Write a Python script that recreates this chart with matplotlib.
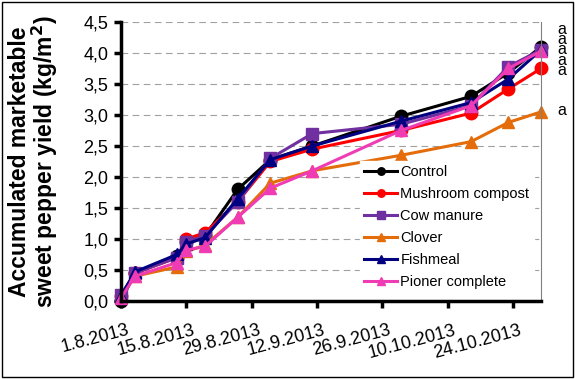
import datetime

import matplotlib
matplotlib.use("Agg")
from matplotlib import pyplot as plt
from matplotlib.patches import Rectangle
from matplotlib.transforms import ScaledTranslation

plt.rcParams['font.family'] = ['Liberation Sans', 'DejaVu Sans']

# harvest dates and accumulated yield (kg/m2)
dates = ["2013-08-01", "2013-08-04", "2013-08-13", "2013-08-15", "2013-08-19", "2013-08-26",
         "2013-09-02", "2013-09-11", "2013-09-30", "2013-10-15", "2013-10-23", "2013-10-30"]
control = [0.00, 0.45, 0.72, 0.95, 1.05, 1.80, 2.28, 2.50, 2.98, 3.30, 3.68, 4.10]
mushroom = [0.08, 0.45, 0.70, 1.00, 1.10, 1.60, 2.25, 2.45, 2.75, 3.03, 3.42, 3.75]
cow_manure = [0.10, 0.45, 0.70, 0.95, 1.05, 1.60, 2.30, 2.70, 2.85, 3.15, 3.78, 4.05]
clover = [0.08, 0.40, 0.55, 0.80, 0.90, 1.35, 1.90, 2.10, 2.35, 2.57, 2.88, 3.05]
fishmeal = [0.08, 0.47, 0.75, 0.92, 1.02, 1.65, 2.28, 2.50, 2.90, 3.20, 3.58, 4.05]
pioner = [0.05, 0.40, 0.62, 0.82, 0.88, 1.35, 1.82, 2.10, 2.75, 3.15, 3.75, 4.03]

tick_dates = ["2013-08-01", "2013-08-15", "2013-08-29", "2013-09-12", "2013-09-26",
              "2013-10-10", "2013-10-24"]
tick_labels = ["1.8.2013", "15.8.2013", "29.8.2013", "12.9.2013", "26.9.2013",
               "10.10.2013", "24.10.2013"]
y_ticks = [0.0, 0.5, 1.0, 1.5, 2.0, 2.5, 3.0, 3.5, 4.0, 4.5]

# significance letters at the right edge (stack of five + clover)
letters_top = "a\na\na\na\na"
letters_top_y = 4.05
letter_clover = "a"
letter_clover_y = 3.08

x = [datetime.datetime.strptime(d, "%Y-%m-%d") for d in dates]

fig = plt.figure(figsize=(5.75, 3.79), dpi=100)
fig.patches.append(Rectangle((0.003, 0.004), 0.994, 0.991, transform=fig.transFigure,
                             fill=False, edgecolor="black", linewidth=1.0))
ax = fig.add_axes([0.2104, 0.2058, 0.7305, 0.7362])

series = [
    ("Control", control, "#000000", "o"),
    ("Mushroom compost", mushroom, "#FF0000", "o"),
    ("Cow manure", cow_manure, "#7030A0", "s"),
    ("Clover", clover, "#E46C0A", "^"),
    ("Fishmeal", fishmeal, "#000080", "^"),
    ("Pioner complete", pioner, "#F03CB4", "^"),
]
for name, vals, col, mk in series:
    ax.plot(x, vals, color=col, marker=mk, markersize=9, linewidth=2.2,
            markeredgecolor=col, label=name, clip_on=False)

ax.set_xlim(datetime.datetime(2013, 8, 1), datetime.datetime(2013, 10, 30))
ax.set_ylim(0, 4.5)
ax.set_yticks(y_ticks)
ax.set_yticklabels([f"{v:.1f}".replace(".", ",") for v in y_ticks], fontsize=13)
ax.set_xticks([datetime.datetime.strptime(d, "%Y-%m-%d") for d in tick_dates])
ax.set_xticklabels(tick_labels, fontsize=13, rotation=15, ha="right", rotation_mode="anchor")
ax.tick_params(axis="both", direction="out", length=5, width=2.5, color="black")
ax.tick_params(axis="x", pad=10)
ax.tick_params(axis="y", pad=4)
# nudge the slanted date labels so their right end sits at the tick
shift = ScaledTranslation(6 / 100, 0, fig.dpi_scale_trans)
for lbl in ax.get_xticklabels():
    lbl.set_transform(lbl.get_transform() + shift)

ax.grid(True, axis="y", linestyle=(0, (6, 4)), color="#A0A0A0", linewidth=0.8)
ax.set_axisbelow(True)
ax.spines["left"].set_linewidth(2.5)
ax.spines["bottom"].set_linewidth(2.5)
ax.spines["top"].set_visible(False)
ax.spines["right"].set_color("#808080")
ax.spines["right"].set_linewidth(0.8)

ax.set_ylabel("Accumulated marketable\nsweet pepper yield (kg/m$^\\mathbf{2}$)",
              fontsize=16.5, fontweight="bold", linespacing=0.95)
ax.yaxis.set_label_coords(-0.145, 0.5)

ax.text(1.05, letters_top_y, letters_top, transform=ax.get_yaxis_transform(), fontsize=11.5,
        ha="center", va="center", linespacing=0.62)
ax.text(1.05, letter_clover_y, letter_clover, transform=ax.get_yaxis_transform(),
        fontsize=11.5, ha="center", va="center")

leg = ax.legend(loc="lower right", bbox_to_anchor=(1.0, 0.0), fontsize=10.5, numpoints=1,
                frameon=True, fancybox=False, edgecolor="white", framealpha=1.0,
                handlelength=2.3, handletextpad=0.2, labelspacing=0.55, borderpad=0.3,
                markerscale=0.6)

plt.savefig("out.png", dpi=100)
